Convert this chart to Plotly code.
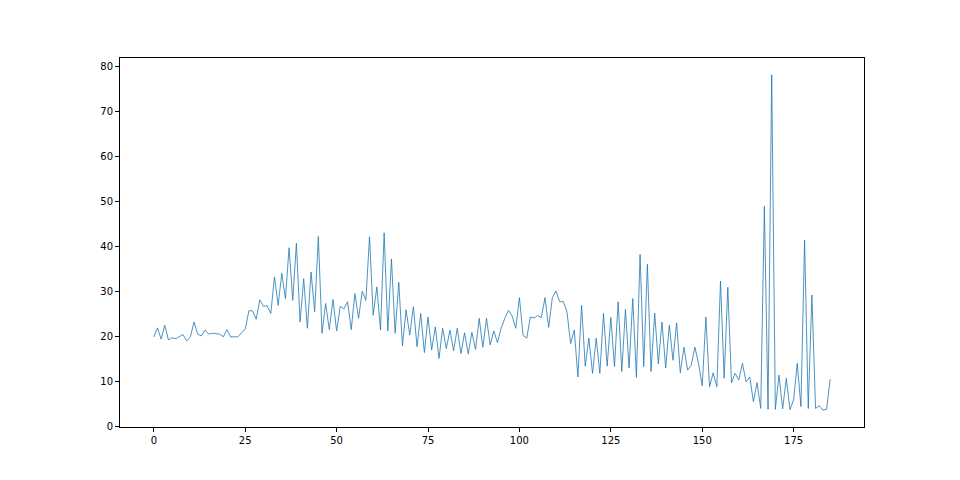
import plotly.graph_objects as go

values = [
    20.0, 22.0, 19.5, 22.6, 19.3, 19.8, 19.6, 20.0, 20.5, 19.1,
    20.0, 23.3, 20.6, 20.2, 21.5, 20.6, 20.8, 20.7, 20.6, 20.0,
    21.6, 20.0, 20.0, 20.0, 20.9, 21.7, 25.8, 25.8, 23.9, 28.2,
    26.8, 26.9, 25.2, 33.3, 27.0, 34.1, 28.5, 39.8, 28.1, 40.8,
    23.3, 32.9, 21.9, 34.4, 25.6, 42.3, 20.8, 27.4, 21.6, 28.3,
    21.3, 26.8, 26.2, 27.8, 21.6, 29.6, 24.1, 30.1, 28.1, 42.2,
    24.8, 31.1, 21.5, 43.1, 21.3, 37.3, 20.8, 32.1, 18.0, 26.0,
    20.4, 26.7, 17.8, 25.2, 16.5, 24.4, 17.1, 22.2, 15.2, 21.9,
    17.4, 21.5, 16.9, 21.9, 16.3, 20.9, 16.2, 21.0, 17.2, 24.1,
    17.7, 24.1, 18.2, 21.3, 18.7, 21.9, 24.1, 25.9, 24.6, 21.9,
    28.7, 20.3, 19.7, 24.4, 24.2, 24.7, 24.3, 28.7, 22.1, 28.7,
    30.2, 27.8, 27.8, 25.6, 18.5, 21.5, 11.1, 27.0, 13.5, 19.7,
    11.9, 19.7, 11.9, 25.2, 13.5, 24.3, 13.4, 27.8, 12.3, 26.1,
    13.1, 28.5, 11.0, 38.3, 13.4, 36.1, 12.3, 25.3, 14.0, 23.3,
    13.1, 22.6, 14.8, 23.1, 12.0, 17.7, 12.6, 13.7, 17.7, 14.1,
    9.1, 24.4, 8.9, 12.0, 8.9, 32.4, 10.8, 31.0, 9.8, 11.9,
    10.4, 14.1, 10.0, 11.1, 5.6, 9.8, 4.1, 49.0, 3.9, 78.2,
    3.9, 11.5, 4.0, 10.8, 3.8, 6.0, 14.1, 4.5, 41.5, 4.1,
    29.3, 4.1, 4.7, 3.7, 3.9, 10.6,
]
x_index = list(range(len(values)))

x_ticks = [0, 25, 50, 75, 100, 125, 150, 175]
y_ticks = [0, 10, 20, 30, 40, 50, 60, 70, 80]

n = len(values) - 1
xpad = 0.05 * n
ymin, ymax = min(values), max(values)
ypad = 0.05 * (ymax - ymin)

fig = go.Figure()
fig.add_trace(go.Scatter(
    x=x_index, y=values, mode="lines",
    line=dict(color="#1f77b4", width=0.8),
    showlegend=False, hoverinfo="skip",
))

axis_common = dict(
    showline=True, linecolor="black", linewidth=1, mirror=True,
    ticks="outside", ticklen=4, tickwidth=1, tickcolor="black",
    showgrid=False, zeroline=False,
    tickfont=dict(family="DejaVu Sans", size=10, color="black"),
)

fig.update_layout(
    width=960, height=480,
    margin=dict(l=112, r=104, t=50, b=61),
    paper_bgcolor="white", plot_bgcolor="white",
    xaxis=dict(range=[-xpad, n + xpad], tickvals=x_ticks,
               ticktext=[str(t) for t in x_ticks], **axis_common),
    yaxis=dict(range=[ymin - ypad, ymax + ypad], tickvals=y_ticks,
               ticktext=[str(t) for t in y_ticks], **axis_common),
)

fig.write_html("out.html")
